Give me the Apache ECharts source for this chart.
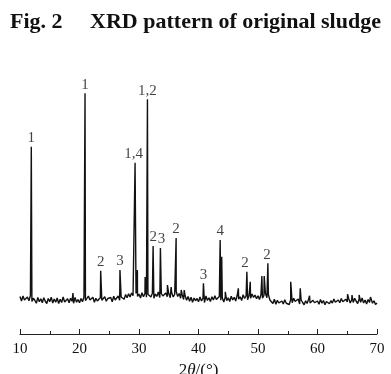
<!DOCTYPE html>
<html>
<head>
<meta charset="utf-8">
<script src="https://cdn.jsdelivr.net/npm/echarts@6/dist/echarts.min.js"></script>
<style>html,body{margin:0;padding:0;background:#fff;}#c{width:391px;height:374px;}</style>
</head>
<body>
<div id="c"></div>
<script>
// Background trace: intensity sampled every 0.25° from 10° to 70°
const baseStart = 10;
const baseStep = 0.25;
const baseline = [
150,132,152,136,128,148,133,154,130,143,134,123,146,129,141,125,145,131,122,142,
129,147,124,140,127,144,122,139,126,148,128,120,141,125,143,131,123,146,127,138,
125,142,129,148,133,126,152,136,130,147,127,143,132,124,145,135,128,149,131,142,
134,146,129,151,136,144,152,135,148,155,139,158,145,161,148,164,153,146,162,150,
160,144,165,149,162,147,159,166,148,163,143,160,150,168,146,162,152,147,164,149,
161,145,165,148,159,170,150,162,143,158,138,153,135,150,131,147,127,144,133,142,
129,148,132,143,126,152,134,145,130,149,136,153,138,132,150,135,144,128,148,133,
145,130,151,136,147,132,154,139,149,134,157,142,152,137,155,143,160,146,156,141,
153,138,158,143,154,162,145,157,136,130,122,139,119,135,124,116,132,120,137,123,
131,118,138,125,143,130,123,140,120,136,126,117,133,122,139,124,118,135,125,120,
132,119,138,123,134,117,130,137,121,133,124,140,127,120,136,125,142,129,122,139,
128,141,124,137,126,143,131,122,140,127,144,124,136,120,138,126,141,123,133,118,
124
];
// Diffraction peaks
const peakTheta =     [11.9, 18.9, 20.93, 23.56, 26.8, 29.34, 29.73, 31.03, 31.42, 32.37, 33.6, 34.78, 35.4, 36.24, 37.1, 37.6, 40.83, 43.64, 43.9, 44.5, 46.7, 48.13, 48.7, 50.65, 51.04, 51.66, 55.5, 57.1, 58.66, 65.05, 65.8, 67.0, 68.9];
const peakIntensity = [749,  164,  963,   253,   256,  685,   256,   228,   939,   352,   344,  196,   188,  384,   176,  176,  203,   376,   309,  169,  183,  249,   209,  232,   232,   283,   209,  183,  153,   159,   156,  156,  148];
// Phase labels
const labelText =      ['1', '1', '2', '3', '1,4', '1,2', '2', '3', '2', '3', '4', '2', '2'];
const labelTheta =     [11.9, 20.93, 23.56, 26.8, 29.1, 31.4, 32.4, 33.8, 36.2, 40.83, 43.64, 47.8, 51.5];
const labelIntensity = [749, 963, 253, 256, 685, 939, 352, 344, 384, 203, 376, 249, 283];
const xTicks = [10, 20, 30, 40, 50, 60, 70];

const pts = [];
baseline.forEach((v, i) => pts.push([baseStart + i * baseStep, v]));
peakTheta.forEach((t, i) => pts.push([t, peakIntensity[i]]));
pts.sort((a, b) => a[0] - b[0]);

const labels = labelText.map((t, i) => [labelTheta[i], labelIntensity[i], t]);

const serif = "'Liberation Serif', 'Times New Roman', serif";
const chart = echarts.init(document.getElementById('c'), null, {renderer: 'canvas'});
chart.setOption({
  animation: false,
  backgroundColor: '#fff',
  title: {
    text: 'Fig. 2     XRD pattern of original sludge',
    left: 'center',
    top: 6,
    textStyle: {fontFamily: serif, fontSize: 22, fontWeight: 'bold', color: '#111'}
  },
  grid: {left: 20, right: 14, top: 84, bottom: 40, outerBoundsMode: 'none', containLabel: false},
  xAxis: {
    type: 'value',
    min: xTicks[0],
    max: xTicks[xTicks.length - 1],
    interval: 10,
    name: '{a|2}{i|θ}{a|/(°)}',
    nameLocation: 'middle',
    nameGap: 25,
    nameTextStyle: {
      rich: {
        a: {fontFamily: serif, fontSize: 17, color: '#111'},
        i: {fontFamily: serif, fontSize: 17, fontStyle: 'italic', color: '#111'}
      }
    },
    axisLine: {show: true, lineStyle: {color: '#222', width: 1}},
    axisTick: {show: true, inside: true, length: 5, lineStyle: {color: '#222'}},
    minorTick: {show: true, splitNumber: 2, length: 3, lineStyle: {color: '#222'}},
    splitLine: {show: false},
    axisLabel: {fontFamily: serif, fontSize: 15, color: '#111', margin: 8}
  },
  yAxis: {type: 'value', min: 0, max: 1000, show: false},
  series: [
    {
      type: 'line',
      data: pts,
      symbol: 'none',
      lineStyle: {color: '#111', width: 1.4},
      silent: true
    },
    {
      type: 'scatter',
      data: labels,
      symbolSize: 0,
      label: {
        show: true,
        position: 'top',
        distance: 1,
        formatter: p => p.value[2],
        fontFamily: serif,
        fontSize: 15,
        color: '#111'
      }
    }
  ]
});
</script>
</body>
</html>
